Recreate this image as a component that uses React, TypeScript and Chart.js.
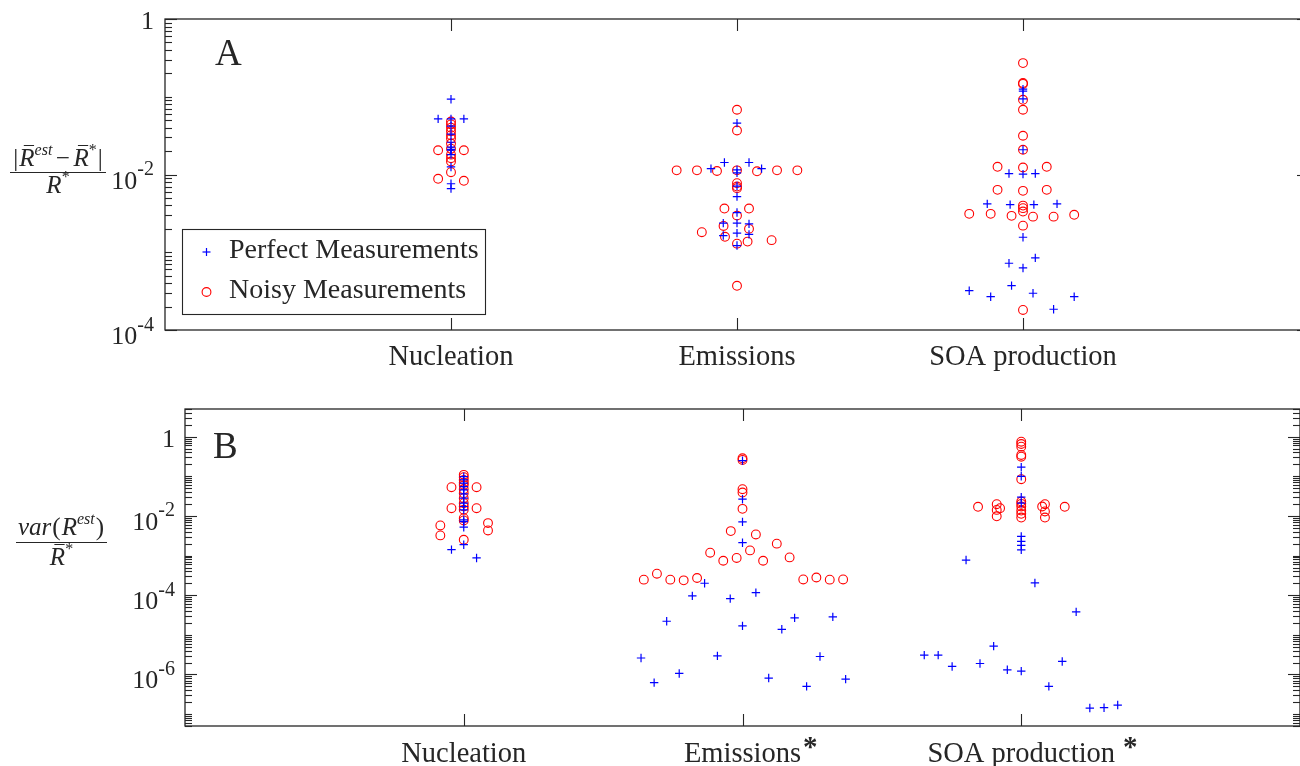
import React, { useEffect, useRef } from 'react';
import { Chart, registerables } from 'chart.js';

Chart.register(...registerables);

// ---------- data ----------
const categories = ['Nucleation', 'Emissions', 'SOA production'];
const categoryX = [1, 2, 3];
const categoryStarB = [false, true, true];
const starGapB = [0, 2, 8];
const seriesLabels = ['Perfect Measurements', 'Noisy Measurements'];
const yTicksA = [1e-4, 1e-2, 1];
const yTicksB = [1e-6, 1e-4, 1e-2, 1];
const yRangeA = [1e-4, 1];
const yRangeB = [5e-8, 5];
const xRange = [0, 4];

type Pt = [number, number]; // [jitter offset from category, value]

// Panel A: |mean(R_est) - mean(R*)| / mean(R*)
const aNucPerfect: Pt[] = [
  [0, 0.093], [-0.045, 0.052], [0, 0.052], [0.045, 0.052], [0, 0.042], [0, 0.033],
  [0, 0.026], [0, 0.0225], [0, 0.021], [0, 0.0205], [0, 0.018], [0, 0.0125],
  [0, 0.0076], [0, 0.0066],
];
const aNucNoisy: Pt[] = [
  [0, 0.048], [0, 0.044], [0, 0.04], [0, 0.036], [0, 0.032], [0, 0.029],
  [0, 0.025], [0, 0.0215], [0, 0.018], [0, 0.0162], [0, 0.0147],
  [-0.045, 0.0205], [0.045, 0.0205], [0, 0.0107], [-0.045, 0.0088], [0.045, 0.0083],
];
const aEmiPerfect: Pt[] = [
  [0, 0.0458], [-0.044, 0.01426], [0.042, 0.01426], [-0.091, 0.0119], [0.086, 0.0119],
  [0, 0.0115], [0, 0.0105], [0, 0.0071], [0, 0.0052], [0, 0.00324], [0, 0.00237],
  [-0.048, 0.00237], [0.042, 0.00232], [0, 0.00176], [-0.048, 0.00164], [0.042, 0.0017],
  [0, 0.00122],
];
const aEmiNoisy: Pt[] = [
  [0, 0.068], [0, 0.0368], [-0.211, 0.0113], [-0.14, 0.0113], [-0.07, 0.0111],
  [0, 0.0113], [0.07, 0.011], [0.14, 0.0113], [0.211, 0.0113], [0, 0.00774],
  [0, 0.007], [0, 0.00667], [-0.044, 0.00365], [0.042, 0.00365], [0, 0.00296],
  [-0.123, 0.00181], [-0.047, 0.00218], [-0.042, 0.00158], [0.042, 0.002],
  [0.037, 0.00137], [0.121, 0.00143], [0, 0.00129], [0, 0.00037],
];
const aSoaPerfect: Pt[] = [
  [0, 0.125], [0, 0.118], [0, 0.094], [0, 0.0208], [-0.049, 0.01028], [0, 0.0101],
  [0.043, 0.01028], [-0.125, 0.00419], [-0.045, 0.0041], [0.038, 0.0041], [0.119, 0.00419],
  [0, 0.00156], [-0.049, 0.000722], [0, 0.000628], [0.043, 0.000846], [-0.188, 0.00032],
  [-0.113, 0.000268], [-0.04, 0.000372], [0.035, 0.000297], [0.179, 0.000268],
  [0.107, 0.000185],
];
const aSoaNoisy: Pt[] = [
  [0, 0.271], [0, 0.15], [0, 0.146], [0, 0.0914], [0, 0.068], [0, 0.0315], [0, 0.0208],
  [-0.089, 0.01256], [0, 0.0123], [0.083, 0.01256], [-0.089, 0.00635], [0, 0.00616],
  [0.083, 0.00635], [0, 0.00398], [0, 0.00369], [0, 0.00334], [-0.188, 0.00312],
  [-0.113, 0.00312], [-0.04, 0.00294], [0.035, 0.00287], [0.107, 0.00287],
  [0.179, 0.00303], [0, 0.0022], [0, 0.000181],
];

// Panel B: var(R_est) / mean(R*)
const bNucPerfect: Pt[] = [
  [0, 0.098], [0, 0.082], [0, 0.067], [0, 0.055], [0, 0.0455], [0, 0.036], [0, 0.0281],
  [0, 0.021], [0, 0.0173], [0, 0.0143], [0, 0.008], [0, 0.0072], [0, 0.0052],
  [0, 0.00188], [-0.044, 0.00141], [0.046, 0.00087],
];
const bNucNoisy: Pt[] = [
  [0, 0.109], [0, 0.095], [0, 0.081], [0, 0.069], [0, 0.06], [0, 0.047], [0, 0.0376],
  [0, 0.0281], [0, 0.021], [0, 0.0174], [0, 0.0143], [0, 0.0088], [0, 0.0077],
  [-0.044, 0.0532], [0.046, 0.0532], [-0.044, 0.0157], [0.046, 0.0157],
  [-0.084, 0.00575], [0.087, 0.0066], [-0.084, 0.00323], [0.087, 0.0043], [0, 0.0025],
];
const bEmiPerfect: Pt[] = [
  [0, 0.249], [0, 0.0265], [0, 0.0071], [0, 0.00211], [-0.136, 0.0002], [-0.18, 9.6e-5],
  [-0.044, 8.2e-5], [0.048, 0.000116], [-0.272, 2.2e-5], [0, 1.68e-5], [0.141, 1.38e-5],
  [0.187, 2.68e-5], [0.324, 2.84e-5], [-0.364, 2.6e-6], [-0.317, 6.2e-7],
  [-0.227, 1.06e-6], [-0.09, 2.95e-6], [0.094, 8.1e-7], [0.23, 5.0e-7],
  [0.278, 2.84e-6], [0.37, 7.6e-7],
];
const bEmiNoisy: Pt[] = [
  [0, 0.285], [0, 0.259], [0, 0.0473], [0, 0.039], [0, 0.0151], [-0.042, 0.00414],
  [0.048, 0.00341], [0.123, 0.002], [-0.116, 0.00118], [0.027, 0.00135], [-0.069, 0.00074],
  [-0.021, 0.00087], [0.074, 0.00074], [0.169, 0.0009], [-0.354, 0.000247],
  [-0.307, 0.000349], [-0.259, 0.000247], [-0.211, 0.000237], [-0.163, 0.000272],
  [0.218, 0.00025], [0.265, 0.00028], [0.313, 0.000247], [0.361, 0.00025],
];
const bSoaPerfect: Pt[] = [
  [0, 0.17], [0, 0.1], [0, 0.0298], [0, 0.021], [0, 0.00304], [0, 0.00228], [0, 0.0018],
  [0, 0.0014], [-0.198, 0.00077], [0.049, 0.000204], [0.197, 3.8e-5], [-0.099, 5.2e-6],
  [-0.348, 3.07e-6], [-0.298, 3.07e-6], [-0.248, 1.59e-6], [-0.148, 1.89e-6],
  [-0.05, 1.31e-6], [0, 1.21e-6], [0.147, 2.13e-6], [0.099, 5.0e-7], [0.246, 1.42e-7],
  [0.297, 1.45e-7], [0.346, 1.69e-7],
];
const bSoaNoisy: Pt[] = [
  [0, 0.748], [0, 0.655], [0, 0.56], [0, 0.346], [0, 0.313], [0, 0.0845], [0, 0.0231],
  [0, 0.0202], [0, 0.0173], [0, 0.0137], [0, 0.0113], [0, 0.0091], [-0.155, 0.017],
  [-0.088, 0.0198], [-0.088, 0.0142], [-0.088, 0.0098], [-0.076, 0.0157], [0.075, 0.0173],
  [0.085, 0.0198], [0.085, 0.013], [0.085, 0.0091], [0.156, 0.017],
];

// ---------- styling ----------
const SERIF = '"Liberation Serif", "Times New Roman", serif';
const INK = '#262626';
const BLUE = '#0000ff';
const RED = '#ff0000';

function toPoints(groups: Pt[][]) {
  const out: { x: number; y: number }[] = [];
  groups.forEach((g, i) => g.forEach(([dx, y]) => out.push({ x: categoryX[i] + dx, y })));
  return out;
}

function makeDatasets(perfect: Pt[][], noisy: Pt[][]) {
  return [
    {
      label: seriesLabels[0],
      data: toPoints(perfect),
      pointStyle: 'cross',
      pointRadius: 4.2,
      pointHoverRadius: 4.2,
      borderColor: BLUE,
      pointBorderColor: BLUE,
      pointBorderWidth: 1.2,
      showLine: false,
    },
    {
      label: seriesLabels[1],
      data: toPoints(noisy),
      pointStyle: 'circle',
      pointRadius: 4.4,
      pointHoverRadius: 4.4,
      borderColor: RED,
      backgroundColor: 'rgba(0,0,0,0)',
      pointBorderColor: RED,
      pointBackgroundColor: 'rgba(0,0,0,0)',
      pointBorderWidth: 1.1,
      showLine: false,
    },
  ];
}

type Seg = { t: string; font: string; dy?: number; bar?: boolean; gap?: number };

function drawRich(ctx: CanvasRenderingContext2D, segs: Seg[], cx: number, baseline: number) {
  ctx.textAlign = 'left';
  ctx.textBaseline = 'alphabetic';
  const widths = segs.map((s) => {
    ctx.font = s.font;
    return ctx.measureText(s.t).width + (s.gap || 0) * 2;
  });
  const total = widths.reduce((a, b) => a + b, 0);
  let x = cx - total / 2;
  segs.forEach((s, i) => {
    ctx.font = s.font;
    const g = s.gap || 0;
    ctx.fillText(s.t, x + g, baseline + (s.dy || 0));
    if (s.bar) {
      ctx.beginPath();
      ctx.lineWidth = 1;
      ctx.moveTo(x + g + 4.5, baseline - 20.5);
      ctx.lineTo(x + widths[i] - g - 0.5, baseline - 20.5);
      ctx.stroke();
    }
    x += widths[i];
  });
}

function line(ctx: CanvasRenderingContext2D, x1: number, y1: number, x2: number, y2: number) {
  ctx.beginPath();
  ctx.moveTo(x1, y1);
  ctx.lineTo(x2, y2);
  ctx.stroke();
}

function drawAxesFrame(chart: any, majors: number[], labelGap: number) {
  const { ctx, chartArea: a, scales } = chart;
  const xs = scales.x;
  const ys = scales.y;
  ctx.save();
  ctx.strokeStyle = INK;
  ctx.fillStyle = INK;
  ctx.lineWidth = 1.3;
  ctx.strokeRect(a.left, a.top, a.right - a.left, a.bottom - a.top);
  ctx.lineWidth = 1.1;
  categoryX.forEach((v) => {
    const px = Math.round(xs.getPixelForValue(v)) + 0.5;
    line(ctx, px, a.bottom, px, a.bottom - 12);
    line(ctx, px, a.top, px, a.top + 12);
  });
  const lo = Math.floor(Math.log10(ys.min));
  const hi = Math.ceil(Math.log10(ys.max));
  const majorExp = majors.map((m) => Math.round(Math.log10(m)));
  for (let e = lo; e <= hi; e++) {
    for (let m = 1; m <= 9; m++) {
      const v = m * Math.pow(10, e);
      if (v < ys.min * 0.999 || v > ys.max * 1.001) continue;
      const py = Math.round(ys.getPixelForValue(v)) + 0.5;
      const len = m === 1 && majorExp.includes(e) ? 12 : 7;
      line(ctx, a.left, py, a.left + len, py);
      line(ctx, a.right, py, a.right - len, py);
    }
  }
  // tick labels
  const xr = a.left - labelGap;
  majors.forEach((v) => {
    const e = Math.round(Math.log10(v));
    const py = ys.getPixelForValue(v);
    ctx.textBaseline = 'alphabetic';
    if (e === 0) {
      ctx.font = `26px ${SERIF}`;
      ctx.textAlign = 'right';
      ctx.fillText('1', xr, py + 10);
    } else {
      const sup = String(e);
      ctx.font = `20px ${SERIF}`;
      const ws = ctx.measureText(sup).width;
      ctx.font = `26px ${SERIF}`;
      const wb = ctx.measureText('10').width;
      const x0 = xr - ws - wb;
      ctx.textAlign = 'left';
      ctx.fillText('10', x0, py + 14);
      ctx.font = `20px ${SERIF}`;
      ctx.fillText(sup, x0 + wb, py + 0.5);
    }
  });
  ctx.restore();
}

function drawCategoryLabels(chart: any, baseline: number, stars: boolean[], gaps: number[]) {
  const { ctx, scales } = chart;
  ctx.save();
  ctx.fillStyle = INK;
  ctx.textBaseline = 'alphabetic';
  ctx.font = `28.5px ${SERIF}`;
  categories.forEach((c, i) => {
    const px = scales.x.getPixelForValue(categoryX[i]);
    ctx.textAlign = 'center';
    ctx.fillText(c, px, baseline);
    if (stars[i]) {
      const w = ctx.measureText(c).width;
      ctx.textAlign = 'left';
      ctx.font = `bold 29px ${SERIF}`;
      ctx.fillText('*', px + w / 2 + gaps[i], baseline - 6);
      ctx.font = `28.5px ${SERIF}`;
    }
  });
  ctx.restore();
}

const decorA = {
  id: 'decorA',
  afterDraw(chart: any) {
    drawAxesFrame(chart, yTicksA, 11);
    drawCategoryLabels(chart, 365, [false, false, false], [0, 0, 0]);
    const ctx: CanvasRenderingContext2D = chart.ctx;
    ctx.save();
    ctx.fillStyle = INK;
    ctx.strokeStyle = INK;
    // panel letter
    ctx.font = `37px ${SERIF}`;
    ctx.textAlign = 'left';
    ctx.fillText('A', 215, 65);
    // y-axis title (fraction)
    const it = `italic 25px ${SERIF}`;
    const up = `25px ${SERIF}`;
    const sm = `italic 16px ${SERIF}`;
    const st = `16px ${SERIF}`;
    drawRich(ctx, [
      { t: '|', font: up, gap: 1 },
      { t: 'R', font: it, bar: true },
      { t: 'est', font: sm, dy: -11 },
      { t: '−', font: up, gap: 3.5 },
      { t: 'R', font: it, bar: true },
      { t: '*', font: st, dy: -11 },
      { t: '|', font: up, gap: 1 },
    ], 58, 166);
    ctx.lineWidth = 1.1;
    line(ctx, 10, 172.5, 106, 172.5);
    drawRich(ctx, [
      { t: 'R', font: it, bar: true },
      { t: '*', font: st, dy: -11 },
    ], 58, 193);
    // legend
    ctx.fillStyle = '#ffffff';
    ctx.fillRect(182.5, 229.5, 303, 85);
    ctx.lineWidth = 1.1;
    ctx.strokeRect(182.5, 229.5, 303, 85);
    ctx.strokeStyle = BLUE;
    ctx.lineWidth = 1.2;
    line(ctx, 206.5, 248, 206.5, 256);
    line(ctx, 202.5, 252, 210.5, 252);
    ctx.strokeStyle = RED;
    ctx.lineWidth = 1.1;
    ctx.beginPath();
    ctx.arc(206.5, 292, 4.4, 0, Math.PI * 2);
    ctx.stroke();
    ctx.fillStyle = INK;
    ctx.font = `28px ${SERIF}`;
    ctx.fillText(seriesLabels[0], 229, 258);
    ctx.fillText(seriesLabels[1], 229, 298);
    ctx.restore();
  },
};

const decorB = {
  id: 'decorB',
  afterDraw(chart: any) {
    drawAxesFrame(chart, yTicksB, 10);
    drawCategoryLabels(chart, 382, categoryStarB, starGapB);
    const ctx: CanvasRenderingContext2D = chart.ctx;
    ctx.save();
    ctx.fillStyle = INK;
    ctx.strokeStyle = INK;
    ctx.font = `37px ${SERIF}`;
    ctx.textAlign = 'left';
    ctx.fillText('B', 213, 78);
    const it = `italic 25px ${SERIF}`;
    const up = `25px ${SERIF}`;
    const sm = `italic 16px ${SERIF}`;
    const st = `16px ${SERIF}`;
    drawRich(ctx, [
      { t: 'var', font: it },
      { t: '(', font: up, gap: 1 },
      { t: 'R', font: it },
      { t: 'est', font: sm, dy: -11 },
      { t: ')', font: up, gap: 1 },
    ], 61.5, 155);
    ctx.lineWidth = 1.1;
    line(ctx, 16, 162.5, 107, 162.5);
    drawRich(ctx, [
      { t: 'R', font: it, bar: true },
      { t: '*', font: st, dy: -11 },
    ], 61.5, 185);
    ctx.restore();
  },
};

function makeConfig(
  perfect: Pt[][],
  noisy: Pt[][],
  yRange: number[],
  padding: { left: number; top: number; right: number; bottom: number },
  decor: any
): any {
  return {
    type: 'scatter',
    data: { datasets: makeDatasets(perfect, noisy) },
    options: {
      responsive: false,
      animation: false,
      devicePixelRatio: 1,
      layout: { padding },
      events: [],
      scales: {
        x: { type: 'linear', min: xRange[0], max: xRange[1], display: false },
        y: { type: 'logarithmic', min: yRange[0], max: yRange[1], display: false },
      },
      plugins: {
        legend: { display: false },
        tooltip: { enabled: false },
      },
    },
    plugins: [decor],
  };
}

export default function App() {
  const refA = useRef<HTMLCanvasElement | null>(null);
  const refB = useRef<HTMLCanvasElement | null>(null);

  useEffect(() => {
    const chartA = new Chart(
      refA.current as HTMLCanvasElement,
      makeConfig(
        [aNucPerfect, aEmiPerfect, aSoaPerfect],
        [aNucNoisy, aEmiNoisy, aSoaNoisy],
        yRangeA,
        { left: 165, top: 19, right: 11, bottom: 50 },
        decorA
      )
    );
    const chartB = new Chart(
      refB.current as HTMLCanvasElement,
      makeConfig(
        [bNucPerfect, bEmiPerfect, bSoaPerfect],
        [bNucNoisy, bEmiNoisy, bSoaNoisy],
        yRangeB,
        { left: 185, top: 29, right: 10, bottom: 40 },
        decorB
      )
    );
    return () => {
      chartA.destroy();
      chartB.destroy();
    };
  }, []);

  return (
    <div
      style={{
        position: 'fixed',
        left: 0,
        top: 0,
        width: 1300,
        height: 766,
        overflow: 'hidden',
        background: '#ffffff',
      }}
    >
      <canvas
        ref={refA}
        width={1320}
        height={380}
        style={{ position: 'absolute', left: 0, top: 0, width: 1320, height: 380 }}
      />
      <canvas
        ref={refB}
        width={1310}
        height={386}
        style={{ position: 'absolute', left: 0, top: 380, width: 1310, height: 386 }}
      />
    </div>
  );
}
